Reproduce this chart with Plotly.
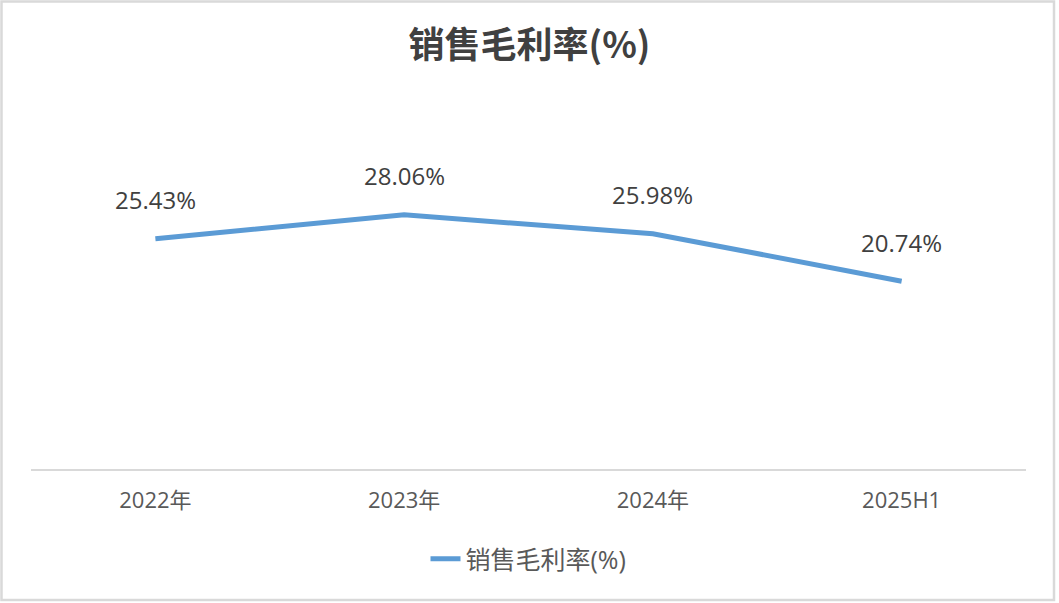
import plotly.graph_objects as go

# 数据
categories = ["2022年", "2023年", "2024年", "2025H1"]
gross_margin = [25.43, 28.06, 25.98, 20.74]
series_name = "销售毛利率(%)"

W, H = 1059, 603
ml, mr, mt, mb = 31, 33, 85, 134
pw, ph = W - ml - mr, H - mt - mb

fig = go.Figure()
fig.add_trace(go.Scatter(
    x=categories, y=gross_margin, mode="lines", name=series_name,
    line=dict(color="#5B9BD5", width=5),
))

# 数据标签
for c, v in zip(categories, gross_margin):
    fig.add_annotation(x=c, y=v, text=f"{v:.2f}%", showarrow=False,
                       yshift=39, font=dict(size=24, color="#404040", family="Open Sans"))

# 外框
fig.add_shape(type="rect", xref="paper", yref="paper",
              x0=-(ml - 1.5) / pw, x1=1 + (mr - 5) / pw,
              y0=-(mb - 3) / ph, y1=1 + (mt - 1.5) / ph,
              line=dict(color="#d9d9d9", width=2.5))

fig.update_layout(
    width=W, height=H,
    margin=dict(l=ml, r=mr, t=mt, b=mb),
    paper_bgcolor="white", plot_bgcolor="white",
    title=dict(text="<b>销售毛利率(%)</b>", x=0.5, xanchor="center", y=1 - 45 / H, yanchor="middle",
               font=dict(size=36, color="#404040", family="Noto Sans CJK SC")),
    xaxis=dict(range=[-0.5, 3.5], showgrid=False, showline=True, linecolor="#d9d9d9", linewidth=1.5,
               ticks="", ticklabelstandoff=11,
               tickfont=dict(size=22, color="#595959", family="Open Sans, Noto Sans CJK SC")),
    yaxis=dict(range=[0, 42.4], visible=False, showgrid=False, zeroline=False),
    showlegend=True,
    legend=dict(orientation="h", x=0.5, xanchor="center", y=-(559 - 469) / ph, yanchor="middle",
                font=dict(size=25, color="#595959", family="Open Sans, Noto Sans CJK SC")),
)

fig.write_html("out.html", config={"displayModeBar": False},
               post_script="document.body.style.margin='0';")
